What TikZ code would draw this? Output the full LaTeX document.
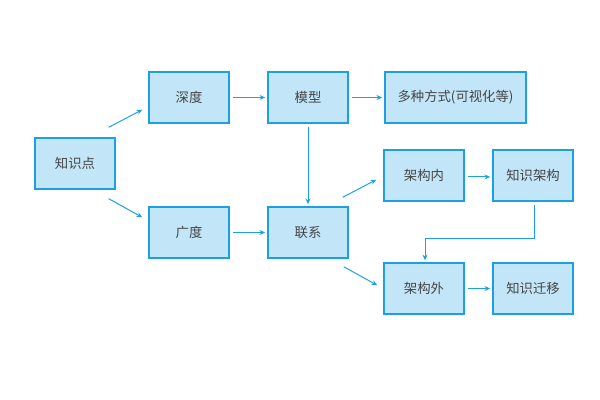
\documentclass[tikz,border=0pt]{standalone}
\usepackage{fontspec}
\newfontfamily\cjk{Noto Sans CJK SC}
\usepackage{xcolor}
\usepackage{tikz}
\usetikzlibrary{arrows.meta,calc}
\definecolor{boxfill}{HTML}{C2E6F8}
\definecolor{boxline}{HTML}{1BA1E2}
\definecolor{txt}{HTML}{454545}

\begin{document}
\begin{tikzpicture}[x=0.025cm,y=-0.025cm,
    box/.style={draw=boxline,fill=boxfill,line width=1pt,minimum width=2cm,minimum height=1.275cm,inner sep=0pt,font=\cjk\fontsize{9.5}{11}\selectfont,text=txt},
    arr/.style={draw=boxline,line width=0.7pt,-{Stealth[length=4pt,width=3.5pt]}}]

        \useasboundingbox (0,0) rectangle (600,400);

        \node[box] (zsd) at (75,163.5) {知识点};
        \node[box] (sd) at (189,97.5) {深度};
        \node[box] (mx) at (308,97.5) {模型};
        \node[box,minimum width=3.525cm] (dzfs) at (455.5,97.5) {多种方式(可视化等)};
        \node[box] (gd) at (189,232.5) {广度};
        \node[box] (lx) at (308,232.5) {联系};
        \node[box] (jgn) at (424,175.5) {架构内};
        \node[box] (zsjg) at (533,175.5) {知识架构};
        \node[box] (jgw) at (424,288.5) {架构外};
        \node[box] (zsqy) at (533,288.5) {知识迁移};

        \draw[arr] ($(zsd.north east)+(-7,-10)$) -- ($(sd.south west)+(-6,-14)$);
        \draw[arr] ($(zsd.south east)+(-7,9)$) -- ($(gd.north west)+(-6,11)$);
        \draw[arr, shorten <=2pt, shorten >=1.5pt] (sd.east) -- (mx.west);
        \draw[arr, shorten <=2pt, shorten >=1.5pt] (mx.east) -- (dzfs.west);
        \draw[arr, shorten <=2pt, shorten >=1.5pt] (mx.south) -- (lx.north);
        \draw[arr, shorten <=2pt, shorten >=1.5pt] (gd.east) -- (lx.west);
        \draw[arr] ($(lx.north east)+(-6,-9)$) -- ($(jgn.south west)+(-7,-22)$);
        \draw[arr] ($(lx.south east)+(-5,8)$) -- ($(jgw.north west)+(-6,23)$);
        \draw[arr, shorten <=2pt, shorten >=1.5pt] ([yshift=-1]jgn.east) -- ([yshift=-1]zsjg.west);
        \coordinate (bend) at (425,238);
        \draw[arr] ($(zsjg.south)+(1,3)$) |- (bend) -- ($(jgw.north)+(1,-2)$);
        \draw[arr, shorten <=2pt, shorten >=1.5pt] (jgw.east) -- (zsqy.west);
    \end{tikzpicture}
\end{document}
